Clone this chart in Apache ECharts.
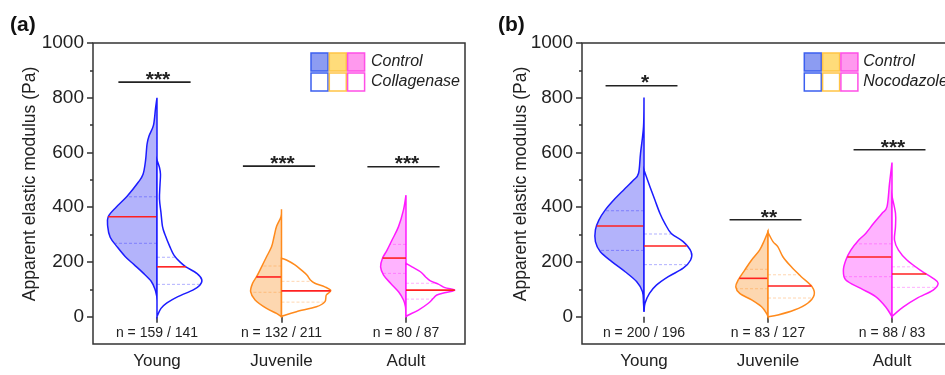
<!DOCTYPE html>
<html>
<head>
<meta charset="utf-8">
<script src="https://cdn.jsdelivr.net/npm/echarts@6/dist/echarts.min.js"></script>
<style>
  html, body { margin: 0; padding: 0; background: #fff; }
  #chart { width: 945px; height: 375px; }
</style>
</head>
<body>
<div id="chart"></div>
<script>
// categories and x positions
const categories = ['Young', 'Juvenile', 'Adult'];
const catPos = [1, 2, 3];
const yTicks = [0, 200, 400, 600, 800, 1000];
const yMinorTicks = [100, 300, 500, 700, 900];

// density profiles: [modulus (Pa), relative half width], top to bottom
// panel (a) control
const aYoungCtrl = [[800, 0], [760, .03], [700, .07], [660, .16], [630, .2], [570, .23], [520, .28], [490, .38], [440, .6], [400, .82], [365, .98], [330, .99], [290, .94], [255, .8], [220, .64], [190, .46], [160, .28], [130, .12], [100, .04], [70, 0]];
const aJuvCtrl = [[392, 0], [365, .01], [329, .1], [292, .15], [255, .2], [219, .3], [182, .4], [146, .5], [122, .58], [91, .62], [61, .53], [30, .3], [12, .1], [0, 0]];
const aAdultCtrl = [[444, 0], [390, .05], [329, .15], [280, .28], [243, .38], [214, .47], [182, .51], [152, .45], [122, .31], [91, .15], [61, .05], [36, .01], [0, 0]];
// panel (a) collagenase
const aYoungColl = [[572, 0], [545, .05], [520, .07], [480, .06], [430, .05], [380, .08], [330, .11], [300, .16], [255, .26], [225, .34], [200, .46], [182, .58], [158, .8], [135, .9], [115, .86], [97, .72], [73, .42], [50, .2], [30, .08], [0, 0]];
const aJuvColl = [[213, 0], [207, .1], [189, .27], [170, .4], [152, .51], [134, .58], [122, .67], [109, .87], [95, .99], [79, .9], [54, .87], [36, .7], [18, .3], [4, .05], [0, 0]];
const aAdultColl = [[195, 0], [182, .12], [164, .29], [146, .39], [131, .49], [119, .65], [106, .78], [97, .98], [88, .8], [79, .62], [67, .55], [49, .45], [24, .25], [6, .05], [0, 0]];
// panel (b) control
const bYoungCtrl = [[801, 0], [694, .01], [597, .07], [524, .11], [499, .21], [463, .41], [426, .61], [390, .78], [353, .91], [317, .98], [274, .98], [237, .88], [201, .65], [164, .38], [128, .15], [91, .03], [50, .01], [18, 0]];
const bJuvCtrl = [[310, 0], [280, .07], [243, .17], [207, .33], [170, .47], [134, .6], [109, .65], [85, .57], [61, .33], [36, .13], [12, .03], [0, 0]];
const bAdultCtrl = [[563, 0], [487, .05], [402, .1], [378, .2], [341, .37], [304, .53], [280, .67], [243, .83], [207, .93], [170, .98], [134, .93], [103, .63], [73, .33], [36, .13], [0, 0]];
// panel (b) nocodazole
const bYoungNoco = [[536, 0], [475, .12], [426, .22], [378, .32], [341, .42], [304, .55], [274, .79], [237, .95], [207, .94], [177, .79], [146, .49], [115, .25], [85, .11], [49, .02], [18, 0]];
const bJuvNoco = [[308, 0], [274, .1], [255, .2], [219, .3], [182, .47], [146, .67], [109, .89], [79, .93], [49, .8], [24, .53], [6, .2], [0, 0]];
const bAdultNoco = [[440, 0], [378, .07], [329, .07], [280, .05], [243, .13], [207, .3], [170, .57], [140, .83], [122, .93], [97, .83], [67, .5], [36, .23], [12, .07], [0, 0]];

// medians and quartiles: [control, treated] per category
const aMedian = [[365, 182], [145, 94], [214, 97]];
const aQ1 = [[268, 118], [89, 53], [158, 64]];
const aQ3 = [[438, 217], [185, 129], [264, 122]];
const bMedian = [[331, 258], [140, 112], [218, 156]];
const bQ1 = [[242, 190], [102, 68], [146, 107]];
const bQ3 = [[387, 302], [173, 153], [266, 182]];

// significance and sample sizes
const aSig = ['***', '***', '***'];
const aSigY = [857, 550, 548];
const bSig = ['*', '**', '***'];
const bSigY = [844, 354, 610];
const aN = ['n = 159 / 141', 'n = 132 / 211', 'n = 80 / 87'];
const bN = ['n = 200 / 196', 'n = 83 / 127', 'n = 88 / 83'];

const FONT = 'Liberation Sans, Arial, sans-serif';
const colors = ['#1c1cff', '#ff8a1c', '#ff1aff'];
const fills = ['#b3b3fb', '#fdd7b0', '#ffb3ff'];
const VW = 0.4; // half width of a full-density violin, in category units

function widthAt(profile, v) {
  for (let i = 0; i < profile.length - 1; i++) {
    const [va, da] = profile[i], [vb, db] = profile[i + 1];
    if (v <= va && v >= vb) return da + (db - da) * (va - v) / (va - vb);
  }
  return 0;
}

function smoothPath(pts) {
  let d = 'M' + pts[0][0] + ',' + pts[0][1];
  for (let i = 0; i < pts.length - 1; i++) {
    const p0 = pts[Math.max(i - 1, 0)], p1 = pts[i], p2 = pts[i + 1], p3 = pts[Math.min(i + 2, pts.length - 1)];
    const c1 = [p1[0] + (p2[0] - p0[0]) / 6, p1[1] + (p2[1] - p0[1]) / 6];
    const c2 = [p2[0] - (p3[0] - p1[0]) / 6, p2[1] - (p3[1] - p1[1]) / 6];
    d += ' C' + c1[0] + ',' + c1[1] + ' ' + c2[0] + ',' + c2[1] + ' ' + p2[0] + ',' + p2[1];
  }
  return d + ' Z';
}

function violinSeries(gi, ctrl, treat, med, q1, q3) {
  const halves = [];
  catPos.forEach((x, i) => {
    halves.push({ x, side: -1, profile: ctrl[i], med: med[i][0], q1: q1[i][0], q3: q3[i][0], color: colors[i], fill: fills[i] });
    halves.push({ x, side: 1, profile: treat[i], med: med[i][1], q1: q1[i][1], q3: q3[i][1], color: colors[i], fill: '#fff' });
  });
  return {
    type: 'custom',
    xAxisIndex: gi,
    yAxisIndex: gi * 2,
    data: halves.map((h, i) => [h.x, i]),
    renderItem(params, api) {
      const h = halves[api.value(1)];
      const pts = h.profile.map(([v, d]) => api.coord([h.x + h.side * d * VW, v]));
      const hline = (v, style) => {
        const a = api.coord([h.x, v]);
        const b = api.coord([h.x + h.side * widthAt(h.profile, v) * VW, v]);
        return { type: 'line', shape: { x1: a[0], y1: a[1], x2: b[0], y2: b[1] }, style };
      };
      const dash = { stroke: h.color, opacity: 0.35, lineWidth: 1, lineDash: [3, 2] };
      return {
        type: 'group',
        children: [
          {
            type: 'path',
            shape: { pathData: smoothPath(pts) },
            style: { fill: h.fill, stroke: h.color, lineWidth: 1.5 }
          },
          hline(h.q1, dash),
          hline(h.q3, dash),
          hline(h.med, { stroke: '#ff2020', lineWidth: 1.6 })
        ]
      };
    }
  };
}

function annotSeries(gi, sig, sigY, nText) {
  return {
    type: 'custom',
    xAxisIndex: gi,
    yAxisIndex: gi * 2,
    data: catPos.map((x, i) => [x, sigY[i], i]),
    renderItem(params, api) {
      const i = api.value(2), x = api.value(0), y = api.value(1);
      const a = api.coord([x - 0.31, y]);
      const b = api.coord([x + 0.27, y]);
      const c = api.coord([x, y]);
      const n = api.coord([x, -62]);
      return {
        type: 'group',
        children: [
          { type: 'line', shape: { x1: a[0], y1: a[1], x2: b[0], y2: b[1] }, style: { stroke: '#222', lineWidth: 1.6 } },
          { type: 'text', x: c[0] + 1, y: c[1] - 2, style: { text: sig[i], fontSize: 21, fontWeight: 'bold', fontFamily: FONT, fill: '#222', align: 'center', verticalAlign: 'middle' } },
          { type: 'text', x: n[0], y: n[1], style: { text: nText[i], fontSize: 14, fontFamily: FONT, fill: '#222', align: 'center', verticalAlign: 'middle' } }
        ]
      };
    }
  };
}

function xAxis(gi, min, max) {
  return {
    type: 'value', gridIndex: gi, min, max,
    axisLine: { show: false },
    splitLine: { show: false },
    axisTick: { customValues: catPos, length: 6, lineStyle: { color: '#333', width: 1.5 } },
    axisLabel: {
      customValues: catPos, margin: 9, fontSize: 17, color: '#222', fontFamily: FONT,
      formatter: v => categories[Math.round(v) - 1]
    }
  };
}

function yAxes(gi) {
  return [{
    type: 'value', gridIndex: gi, min: -100, max: 1000,
    axisLine: { show: false },
    splitLine: { show: false },
    axisTick: { customValues: yTicks, length: 6, lineStyle: { color: '#333', width: 1.5 } },
    axisLabel: { customValues: yTicks, margin: 9, fontSize: 19, color: '#222', fontFamily: FONT, formatter: v => String(v) }
  }, {
    type: 'value', gridIndex: gi, min: -100, max: 1000, position: 'left',
    axisLine: { show: false },
    splitLine: { show: false },
    axisTick: { customValues: yMinorTicks, length: 3, lineStyle: { color: '#333', width: 1.5 } },
    axisLabel: { show: false }
  }];
}

function legend(x0, textX, label) {
  const boxFills = ['#8c9cf2', '#ffdc7a', '#ff99ee'];
  const borders = ['#3b5ff0', '#ffc445', '#ff4fe6'];
  const els = [];
  [0, 1, 2].forEach(i => {
    [0, 1].forEach(r => {
      els.push({
        type: 'rect',
        shape: { x: x0 + i * 18.3, y: 53 + r * 20, width: 17, height: 18 },
        style: { fill: r === 0 ? boxFills[i] : '#fff', stroke: borders[i], lineWidth: 1.5 }
      });
    });
  });
  ['Control', label].forEach((t, r) => {
    els.push({
      type: 'text', x: textX, y: 62 + r * 20,
      style: { text: t, fontSize: 16, fontStyle: 'italic', fontFamily: FONT, fill: '#222', verticalAlign: 'middle' }
    });
  });
  return els;
}

const yTitle = 'Apparent elastic modulus (Pa)';

const chart = echarts.init(document.getElementById('chart'));
chart.setOption({
  backgroundColor: '#fff',
  animation: false,
  grid: [
    { left: 93, top: 43, width: 372, height: 301, show: true, borderColor: '#333', borderWidth: 1.5, outerBoundsMode: 'none' },
    { left: 582, top: 43, width: 372, height: 301, show: true, borderColor: '#333', borderWidth: 1.5, outerBoundsMode: 'none' }
  ],
  xAxis: [xAxis(0, 0.486, 3.474), xAxis(1, 0.5, 3.5)],
  yAxis: [...yAxes(0), ...yAxes(1)],
  series: [
    violinSeries(0, [aYoungCtrl, aJuvCtrl, aAdultCtrl], [aYoungColl, aJuvColl, aAdultColl], aMedian, aQ1, aQ3),
    violinSeries(1, [bYoungCtrl, bJuvCtrl, bAdultCtrl], [bYoungNoco, bJuvNoco, bAdultNoco], bMedian, bQ1, bQ3),
    annotSeries(0, aSig, aSigY, aN),
    annotSeries(1, bSig, bSigY, bN)
  ],
  graphic: [
    { type: 'text', x: 10, y: 25, style: { text: '(a)', fontSize: 21, fontWeight: 'bold', fontFamily: FONT, fill: '#111', verticalAlign: 'middle' } },
    { type: 'text', x: 498, y: 25, style: { text: '(b)', fontSize: 21, fontWeight: 'bold', fontFamily: FONT, fill: '#111', verticalAlign: 'middle' } },
    { type: 'text', x: 30, y: 184, rotation: Math.PI / 2, style: { text: yTitle, fontSize: 17.5, fontFamily: FONT, fill: '#222', align: 'center', verticalAlign: 'middle' } },
    { type: 'text', x: 521.5, y: 184, rotation: Math.PI / 2, style: { text: yTitle, fontSize: 17.5, fontFamily: FONT, fill: '#222', align: 'center', verticalAlign: 'middle' } },
    ...legend(311, 371, 'Collagenase'),
    ...legend(804.3, 863.3, 'Nocodazole')
  ]
});
</script>
</body>
</html>
